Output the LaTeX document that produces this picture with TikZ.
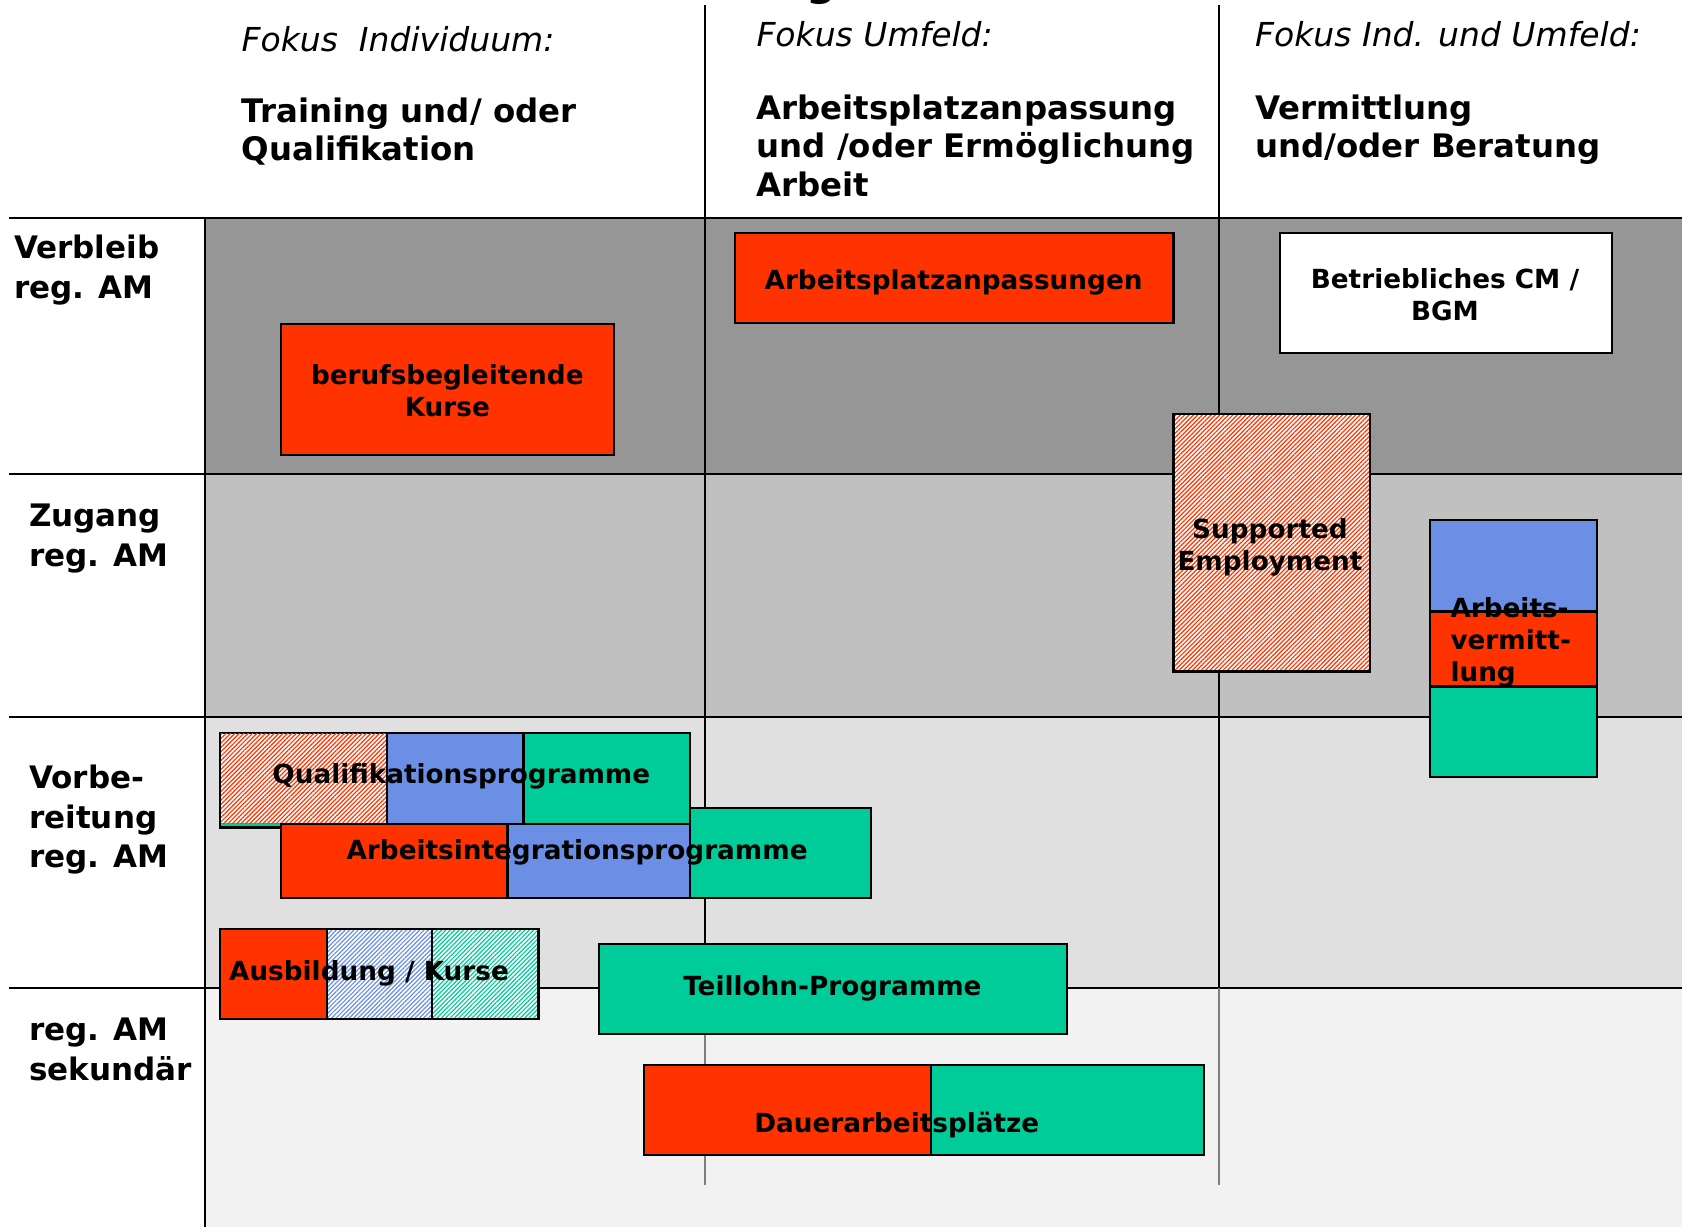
\documentclass[tikz,border=0pt]{standalone}
\usepackage{fontspec}
\setmainfont{DejaVu Sans}
\usetikzlibrary{patterns.meta}

\definecolor{hred}{HTML}{FF3300}
\definecolor{hblue}{HTML}{6A8FE5}
\definecolor{hgreen}{HTML}{00CC99}
\definecolor{rowA}{HTML}{969696}
\definecolor{rowB}{HTML}{C0C0C0}
\definecolor{rowC}{HTML}{E0E0E0}
\definecolor{rowD}{HTML}{F2F2F2}
\definecolor{lowline}{HTML}{7F7F7F}

\tikzset{
  gridline/.style={line width=2.2pt, draw=black},
  gridlow/.style={line width=2.2pt, draw=lowline},
  cell/.style={line width=2.2pt, draw=black},
  hatch/.style={preaction={fill=white},
    pattern={Lines[angle=45,distance=3.1pt,line width=1.2pt]}, pattern color=#1},
  rowlabel/.style={anchor=base west, inner sep=0pt, align=left,
    font=\fontsize{31}{39.7}\selectfont\bfseries},
  colhead/.style={anchor=base west, inner sep=0pt, align=left,
    font=\fontsize{32.4}{38.6}\selectfont\bfseries},
  colfocus/.style={anchor=base west, inner sep=0pt,
    font=\fontsize{33}{38}\selectfont\itshape},
  boxtext/.style={anchor=base, inner sep=0pt, align=center,
    font=\fontsize{26.3}{32.2}\selectfont\bfseries},
}

\begin{document}
\begin{tikzpicture}[x=1pt, y=-1pt]
\useasboundingbox (0,0) rectangle (1682,1227);
\fill[white] (0,0) rectangle (1682,1227);

% lower end of the title line above the table
\node[anchor=base, inner sep=0pt, font=\fontsize{42}{42}\selectfont\bfseries] (titlefrag) at (822,-4.5) {g};

% row bands
\fill[rowA] (204.9,217.8) rectangle (1682,474.1);
\fill[rowB] (204.9,474.1) rectangle (1682,716.6);
\fill[rowC] (204.9,716.6) rectangle (1682,988);
\fill[rowD] (204.9,988) rectangle (1682,1227);

% table rules
\draw[gridline] (8.6,217.8) -- (1682,217.8);
\draw[gridline] (8.6,474.1) -- (1682,474.1);
\draw[gridline] (8.6,716.6) -- (1682,716.6);
\draw[gridline] (8.6,988) -- (1682,988);
\draw[gridline] (204.9,217.8) -- (204.9,1227);
\draw[gridline] (704.8,5.4) -- (704.8,988);
\draw[gridline] (1218.6,5.4) -- (1218.6,988);
\draw[gridlow] (704.8,988) -- (704.8,1185.3);
\draw[gridlow] (1218.6,988) -- (1218.6,1185.3);

% column headings (multi-line nodes sit on the baseline of their last line)
\node[colfocus] (f1) at (241.4,51.5) {Fokus~ Individuum:};
\node[colhead] (h1) at (241.4,160.9) {Training und/ oder\\Qualifikation};
\node[colfocus] (f2) at (756.3,46.1) {Fokus Umfeld:};
\node[colhead] (h2) at (756.3,196.3) {Arbeitsplatzanpassung\\und /oder Ermöglichung\\Arbeit};
\node[colfocus] (f3) at (1255,46.1) {Fokus Ind. und Umfeld:};
\node[colhead] (h3) at (1255,157.7) {Vermittlung\\und/oder Beratung};

% row headings
\node[rowlabel] (r1) at (13.9,298.2) {Verbleib\\reg. AM};
\node[rowlabel] (r2) at (29,566.4) {Zugang\\reg. AM};
\node[rowlabel] (r3) at (29,867.8) {Vorbe-\\reitung\\reg. AM};
\node[rowlabel] (r4) at (29,1080.2) {reg. AM\\sekundär};

% Verbleib
\draw[cell, fill=hred] (281,324) rectangle (613.6,454.8);
\node[boxtext] (kurse) at (447.3,416.2) {berufsbegleitende\\Kurse};
\draw[cell, fill=hred] (734.8,232.8) rectangle (1173.5,322.9);
\node[boxtext] (anpass) at (953.6,289.5) {Arbeitsplatzanpassungen};
\draw[cell, fill=white] (1279.7,232.8) rectangle (1612.3,352.9);
\node[boxtext] (bcm) at (1445,320.2) {Betriebliches CM /\\BGM};

% Zugang
\draw[cell, hatch=hred] (1173.5,414.1) rectangle (1369.8,671.5);
\node[boxtext] (supemp) at (1270,570.2) {Supported\\Employment};
\draw[cell, fill=hblue] (1429.9,520.3) rectangle (1597.2,611.4);
\draw[cell, fill=hred] (1429.9,611.4) rectangle (1597.2,686.5);
\draw[cell, fill=hgreen] (1429.9,686.5) rectangle (1597.2,776.6);
\node[boxtext, anchor=base west, align=left] (vermittlung) at (1450.3,681.9) {Arbeits-\\vermitt-\\lung};

% Vorbereitung
\draw[cell, fill=hgreen] (219.9,732.7) rectangle (689.7,827.5);
\fill[hatch=hred] (221,733.8) rectangle (387.2,823);
\draw[cell, fill=hblue] (387.2,732.7) rectangle (523.5,823.8);
\node[boxtext] (qual) at (461.3,783) {Qualifikationsprogramme};

\draw[cell, fill=hred] (281,823.8) rectangle (507.4,897.8);
\draw[cell, fill=hblue] (507.4,823.8) rectangle (689.7,897.8);
\draw[cell, fill=hgreen] (689.7,807.7) rectangle (871,897.8);
\node[boxtext] (integ) at (577.1,859) {Arbeitsintegrationsprogramme};

\draw[cell, fill=hred] (219.9,929) rectangle (327.2,1019);
\draw[cell, hatch=hblue] (327.2,929) rectangle (432.3,1019);
\draw[cell, hatch=hgreen] (432.3,929) rectangle (538.5,1019);
\node[boxtext] (ausb) at (369,980) {Ausbildung / Kurse};

\draw[cell, fill=hgreen] (598.6,944) rectangle (1067.3,1034);
\node[boxtext] (teillohn) at (832.4,995) {Teillohn-Programme};

% sekundaer
\draw[cell, fill=hred] (643.6,1065.2) rectangle (931.1,1155.3);
\draw[cell, fill=hgreen] (931.1,1065.2) rectangle (1203.6,1155.3);
\node[boxtext] (dauer) at (896.8,1132.5) {Dauerarbeitsplätze};
\end{tikzpicture}
\end{document}
